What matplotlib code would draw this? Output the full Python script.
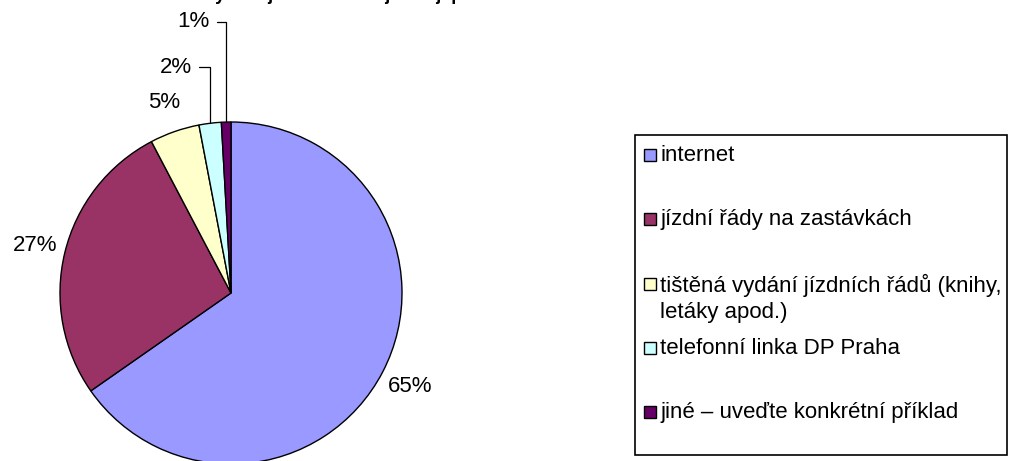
import matplotlib
matplotlib.use('Agg')
import numpy as np
import matplotlib.pyplot as plt
from matplotlib.patches import Rectangle

plt.rcParams['font.family'] = ['Liberation Sans', 'DejaVu Sans']

# Data
categories = ['internet',
              'jízdní řády na zastávkách',
              'tištěná vydání jízdních řádů (knihy,\nletáky apod.)',
              'telefonní linka DP Praha',
              'jiné – uveďte konkrétní příklad']
shares = [65.3, 27.0, 4.7, 2.1, 0.9]
colors = ['#9999FF', '#993366', '#FFFFCC', '#CCFFFF', '#660066']
title = 'Jaký zdroj informací nejčastěji používáte?'

W, H = 1009, 461
fig = plt.figure(figsize=(W / 100, H / 100), dpi=100)

# pie axes: centre (231, 293) px, radius 171 px
cx, cy, r = 231, 293, 171
L = 1.75
S = 2 * L * r
ax = fig.add_axes([(cx - S / 2) / W, (H - cy - S / 2) / H, S / W, S / H])
wedges, _ = ax.pie(shares, colors=colors, startangle=90, counterclock=False,
                   wedgeprops=dict(edgecolor='black', linewidth=1.0))
ax.set_xlim(-L, L)
ax.set_ylim(-L, L)
ax.axis('off')

fs = 16
for i, w in enumerate(wedges):
    mid = np.deg2rad((w.theta1 + w.theta2) / 2)
    px, py = np.cos(mid), np.sin(mid)
    txt = '%.0f%%' % shares[i]
    if shares[i] >= 4:
        ax.text(1.18 * px, 1.18 * py, txt, ha='center', va='center', fontsize=fs)
    else:
        # small slices: label up top with an elbow leader line
        k = i - 3
        ty = [1.32, 1.585][k]
        tx = px - [0.105, 0.095][k]
        ax.annotate(txt, xy=(px, py), xytext=(tx, ty), ha='right', va='center',
                    fontsize=fs,
                    arrowprops=dict(arrowstyle='-', color='black', lw=0.9,
                                    shrinkA=3, shrinkB=0,
                                    connectionstyle='angle,angleA=0,angleB=90,rad=0'))

# title sits above the top edge, only its descenders show (as in the original)
fig.text(365 / W, 1 + 0.5 / H, title, ha='center', va='baseline',
         fontsize=13, fontweight='bold')

# legend drawn in pixel space
lax = fig.add_axes([0, 0, 1, 1])
lax.set_xlim(0, W)
lax.set_ylim(H, 0)
lax.axis('off')
lax.add_patch(Rectangle((635, 135), 372, 320, fill=False, edgecolor='black', lw=1.2))
row0, step = 155, 64.25
for i, (lab, col) in enumerate(zip(categories, colors)):
    y = row0 + i * step
    lax.add_patch(Rectangle((644, y - 6), 12, 12, facecolor=col,
                            edgecolor='black', lw=1.0))
    lax.text(660, y - 10, lab, ha='left', va='top', fontsize=fs, linespacing=1.35)

fig.savefig('out.png', dpi=100)
